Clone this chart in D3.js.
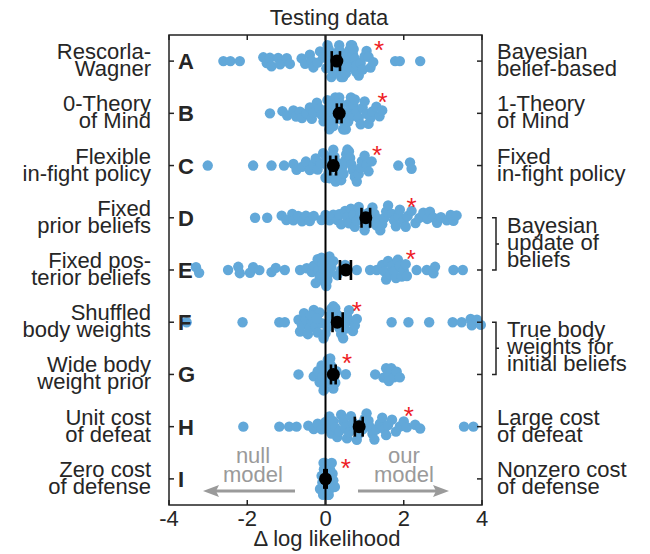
<!DOCTYPE html>
<html>
<head>
<meta charset="utf-8">
<script src="https://cdn.jsdelivr.net/npm/d3@7"></script>
<style>
  body { margin: 0; background: #fff; }
  svg { font-family: "Liberation Sans", Arial, sans-serif; }
</style>
</head>
<body>
<svg id="chart" width="650" height="554"></svg>
<script>
// model comparison rows, top to bottom
const rows = ["A", "B", "C", "D", "E", "F", "G", "H", "I"];

const leftLabels = [
  ["Rescorla-", "Wagner"], ["0-Theory", "of Mind"], ["Flexible", "in-fight policy"],
  ["Fixed", "prior beliefs"], ["Fixed pos-", "terior beliefs"], ["Shuffled", "body weights"],
  ["Wide body", "weight prior"], ["Unit cost", "of defeat"], ["Zero cost", "of defense"]
];
const rightLabels = [
  ["Bayesian", "belief-based"], ["1-Theory", "of Mind"], ["Fixed", "in-fight policy"],
  null, null, null, null,
  ["Large cost", "of defeat"], ["Nonzero cost", "of defense"]
];
const bracketGroups = [
  { from: "D", to: "E", lines: ["Bayesian", "update of", "beliefs"] },
  { from: "F", to: "G", lines: ["True body", "weights for", "initial beliefs"] }
];

// per-subject delta log likelihood, one list per row
const deltaA = [-2.61, -2.43, -2.19, -1.59, -1.50, -1.42, -1.38, -1.21, -1.16, -0.99, -0.91, -0.61, -0.52, -0.40, -0.35, -0.31, -0.20, -0.14, -0.06,
  0.02, 0.05, 0.08, 0.1, 0.12, 0.15, 0.18, 0.2, 0.22, 0.25, 0.28, 0.3, 0.32, 0.35, 0.38, 0.4, 0.42, 0.45, 0.48, 0.5, 0.52, 0.55, 0.58, 0.6,
  0.62, 0.65, 0.68, 0.7, 0.72, 0.75, 0.78, 0.8, 0.85, 0.9, 0.95, 1.0, 1.05, 1.1, 1.15, 1.22, 1.78, 1.9, 2.42];
const deltaB = [-1.42, -1.10, -0.98, -0.82, -0.75, -0.65, -0.6, -0.48, -0.4, -0.35, -0.3, -0.22, -0.15, -0.1, -0.05,
  0.02, 0.05, 0.08, 0.1, 0.12, 0.15, 0.18, 0.2, 0.22, 0.25, 0.28, 0.3, 0.32, 0.35, 0.38, 0.4, 0.42, 0.45, 0.48, 0.5, 0.52, 0.55, 0.58, 0.6,
  0.62, 0.65, 0.7, 0.72, 0.75, 0.8, 0.85, 0.9, 0.95, 1.0, 1.05, 1.1, 1.15, 1.2, 1.3, 1.38, 1.45];
const deltaC = [-3.01, -1.85, -1.38, -1.06, -0.82, -0.74, -0.6, -0.5, -0.4, -0.31, -0.25, -0.2, -0.12, -0.06, 0.0,
  0.02, 0.05, 0.08, 0.1, 0.12, 0.15, 0.18, 0.2, 0.23, 0.26, 0.3, 0.33, 0.36, 0.4, 0.43, 0.46, 0.5, 0.53, 0.56, 0.6, 0.63, 0.66, 0.7,
  0.75, 0.8, 0.85, 0.9, 0.93, 1.0, 1.05, 1.1, 1.18, 1.86, 2.16, 2.2];
const deltaD = [-1.8, -1.49, -1.12, -1.0, -0.85, -0.82, -0.7, -0.6, -0.5, -0.4, -0.3, -0.1, 0.0, 0.1, 0.2, 0.3, 0.35, 0.4, 0.5, 0.55, 0.6,
  0.65, 0.71, 0.75, 0.8, 0.85, 0.9, 0.95, 1.0, 1.05, 1.1, 1.15, 1.2, 1.25, 1.3, 1.35, 1.4, 1.45, 1.5, 1.55, 1.6, 1.7, 1.75, 1.8, 1.86,
  1.9, 2.0, 2.05, 2.1, 2.2, 2.3, 2.4, 2.5, 2.6, 2.67, 2.75, 2.85, 2.95, 3.1, 3.2, 3.27, 3.35];
const deltaE = [-3.31, -3.23, -2.49, -2.23, -2.19, -1.93, -1.85, -1.69, -1.38, -1.27, -1.04, -0.65, -0.48, -0.35, -0.3, -0.25, -0.2,
  -0.18, -0.15, -0.12, -0.1, -0.08, -0.05, -0.03, 0.0, 0.02, 0.05, 0.08, 0.1, 0.15, 0.2, 0.3, 0.4, 0.5, 0.8, 1.14, 1.31, 1.45, 1.5,
  1.55, 1.6, 1.65, 1.7, 1.75, 1.8, 1.85, 1.9, 1.95, 2.0, 2.05, 2.08, 2.33, 2.59, 2.76, 2.8, 3.27, 3.51];
const deltaF = [-3.55, -2.12, -1.18, -1.04, -0.69, -0.65, -0.6, -0.55, -0.5, -0.45, -0.4, -0.35, -0.3, -0.25, -0.2, -0.15, -0.1,
  -0.05, 0.0, 0.05, 0.1, 0.15, 0.2, 0.25, 0.3, 0.35, 0.4, 0.45, 0.5, 0.55, 0.6, 0.65, 0.7, 0.75, 0.8, -0.38, -0.22, 0.12, 0.32,
  0.48, 1.69, 2.12, 2.65, 3.25, 3.48, 3.71, 3.74, 3.87, 3.97];
const deltaG = [-0.69, -0.3, -0.2, -0.15, -0.1, -0.08, -0.05, -0.03, 0.0, 0.02, 0.04, 0.06, 0.08, 0.1, 0.12, 0.14, 0.16, 0.18, 0.2,
  0.22, 0.25, 0.28, 0.52, 1.27, 1.48, 1.55, 1.6, 1.62, 1.68, 1.75, 1.82, 1.9];
const deltaH = [-2.1, -1.18, -0.93, -0.74, -0.44, -0.3, -0.2, -0.1, 0.0, 0.05, 0.1, 0.15, 0.2, 0.25, 0.3, 0.35, 0.4, 0.45, 0.5, 0.55,
  0.6, 0.65, 0.7, 0.75, 0.8, 0.85, 0.9, 0.95, 1.0, 1.05, 1.1, 1.15, 1.2, 1.25, 1.3, 1.39, 1.45, 1.5, 1.55, 1.6, 1.7, 1.8, 1.9, 2.0,
  2.08, 2.29, 2.42, 3.54, 3.78];
const deltaI = [-0.14, -0.1, -0.08, -0.06, -0.05, -0.04, -0.02, 0.0, 0.0, 0.02, 0.03, 0.04, 0.06, 0.07, 0.08, 0.1, 0.11, 0.12, 0.14,
  0.16, 0.18, 0.2, 0.24];
const deltas = [deltaA, deltaB, deltaC, deltaD, deltaE, deltaF, deltaG, deltaH, deltaI];

// mean and error bar ends, significance star position
const means  = [0.29, 0.35, 0.20, 1.03, 0.52, 0.30, 0.20, 0.86, 0.00];
const errLow = [0.16, 0.29, 0.12, 0.92, 0.37, 0.18, 0.14, 0.75, -0.03];
const errHigh = [0.37, 0.41, 0.27, 1.14, 0.65, 0.44, 0.26, 0.95, 0.03];
const starX  = [1.37, 1.46, 1.32, 2.20, 2.18, 0.80, 0.55, 2.13, 0.52];

const xTicks = [-4, -2, 0, 2, 4];

const svg = d3.select("#chart");
const textColor = "#262626";
const blue = "#62a8d9";
const fs = 22;

const x = d3.scaleLinear().domain([-4, 4]).range([169, 482]);
const y = d3.scaleBand().domain(rows).range([35, 505]);
const yc = r => y(r) + y.bandwidth() / 2;

// beeswarm-ish layout per row
rows.forEach((r, i) => {
  const nodes = deltas[i].map(v => ({ v: v, x: x(v), y: yc(r) }));
  const sim = d3.forceSimulation(nodes)
    .force("x", d3.forceX(d => x(d.v)).strength(1))
    .force("y", d3.forceY(yc(r)).strength(0.06))
    .force("c", d3.forceCollide(3.3))
    .stop();
  for (let k = 0; k < 200; k++) sim.tick();
  nodes.forEach(d => { d.y = Math.max(yc(r) - 16, Math.min(yc(r) + 16, d.y)); });

  svg.append("g").selectAll("circle")
    .data(nodes)
    .join("circle")
      .attr("cx", d => x(d.v))
      .attr("cy", d => d.y)
      .attr("r", 5.2)
      .attr("fill", blue);
});

// zero line
svg.append("line")
  .attr("x1", x(0)).attr("x2", x(0))
  .attr("y1", 35).attr("y2", 505)
  .attr("stroke", "#000").attr("stroke-width", 2);

// mean with error bars
const eb = svg.append("g");
rows.forEach((r, i) => {
  eb.append("line").attr("x1", x(errLow[i])).attr("x2", x(errHigh[i]))
    .attr("y1", yc(r)).attr("y2", yc(r)).attr("stroke", "#000").attr("stroke-width", 2);
  [errLow[i], errHigh[i]].forEach(v => {
    eb.append("line").attr("x1", x(v)).attr("x2", x(v))
      .attr("y1", yc(r) - 10).attr("y2", yc(r) + 10)
      .attr("stroke", "#000").attr("stroke-width", 2.6);
  });
  eb.append("circle").attr("cx", x(means[i])).attr("cy", yc(r)).attr("r", 6.5).attr("fill", "#000");
});

// red stars
svg.append("g").selectAll("text")
  .data(rows)
  .join("text")
    .attr("x", (d, i) => x(starX[i]))
    .attr("y", d => yc(d) - 2)
    .attr("text-anchor", "middle")
    .attr("font-size", 26)
    .attr("fill", "#ee1c25")
    .text("*");

// frame and ticks
svg.append("rect").attr("x", 169).attr("y", 35).attr("width", 313).attr("height", 470)
  .attr("fill", "none").attr("stroke", "#222").attr("stroke-width", 1.5);

const ticks = svg.append("g").attr("stroke", "#222").attr("stroke-width", 1.5);
xTicks.forEach(t => {
  ticks.append("line").attr("x1", x(t)).attr("x2", x(t)).attr("y1", 505).attr("y2", 500);
  ticks.append("line").attr("x1", x(t)).attr("x2", x(t)).attr("y1", 35).attr("y2", 40);
});
rows.forEach(r => {
  ticks.append("line").attr("x1", 169).attr("x2", 174).attr("y1", yc(r)).attr("y2", yc(r));
  ticks.append("line").attr("x1", 477).attr("x2", 482).attr("y1", yc(r)).attr("y2", yc(r));
});

svg.append("g").selectAll("text")
  .data(xTicks)
  .join("text")
    .attr("x", d => x(d))
    .attr("y", 526)
    .attr("text-anchor", "middle")
    .attr("font-size", fs)
    .attr("fill", textColor)
    .text(d => d);

svg.append("text").attr("x", 327).attr("y", 546).attr("text-anchor", "middle")
  .attr("font-size", fs).attr("fill", textColor).text("Δ log likelihood");

svg.append("text").attr("x", 329).attr("y", 25).attr("text-anchor", "middle")
  .attr("font-size", fs).attr("fill", textColor).text("Testing data");

// row letters
svg.append("g").selectAll("text")
  .data(rows)
  .join("text")
    .attr("x", 178)
    .attr("y", d => yc(d) + 8)
    .attr("font-size", fs)
    .attr("font-weight", "bold")
    .attr("fill", textColor)
    .text(d => d);

// left and right labels
function twoLines(g, lines, xPos, yPos, anchor) {
  const t = g.append("text").attr("x", xPos).attr("y", yPos).attr("text-anchor", anchor)
    .attr("font-size", fs).attr("fill", textColor);
  lines.forEach((s, k) => t.append("tspan").attr("x", xPos).attr("y", yPos + k * 17).text(s));
}
const labels = svg.append("g");
rows.forEach((r, i) => {
  twoLines(labels, leftLabels[i], 151, yc(r) - 2, "end");
  if (rightLabels[i]) twoLines(labels, rightLabels[i], 497, yc(r) - 2, "start");
});

// brackets on the right
bracketGroups.forEach(b => {
  const y1 = yc(b.from), y2 = yc(b.to), ym = (y1 + y2) / 2;
  svg.append("path")
    .attr("d", `M492,${y1}H496V${y2}H492M496,${ym}H499`)
    .attr("fill", "none").attr("stroke", "#222").attr("stroke-width", 1.5);
  twoLines(labels, b.lines, 507, ym - 11, "start");
});

// null model / our model arrows
const grey = "#9a9a9a";
const ann = svg.append("g").attr("fill", grey).attr("font-size", fs).attr("text-anchor", "middle");
ann.append("text").attr("x", 253).attr("y", 463).text("null");
ann.append("text").attr("x", 253).attr("y", 482).text("model");
ann.append("text").attr("x", 404).attr("y", 463).text("our");
ann.append("text").attr("x", 404).attr("y", 482).text("model");

const ay = 491;
svg.append("line").attr("x1", 295).attr("x2", 215).attr("y1", ay).attr("y2", ay)
  .attr("stroke", grey).attr("stroke-width", 3);
svg.append("path").attr("d", `M203,${ay}L219,${ay - 6}L216,${ay}L219,${ay + 6}Z`).attr("fill", grey);
svg.append("line").attr("x1", 358).attr("x2", 437).attr("y1", ay).attr("y2", ay)
  .attr("stroke", grey).attr("stroke-width", 3);
svg.append("path").attr("d", `M449,${ay}L433,${ay - 6}L436,${ay}L433,${ay + 6}Z`).attr("fill", grey);
</script>
</body>
</html>
